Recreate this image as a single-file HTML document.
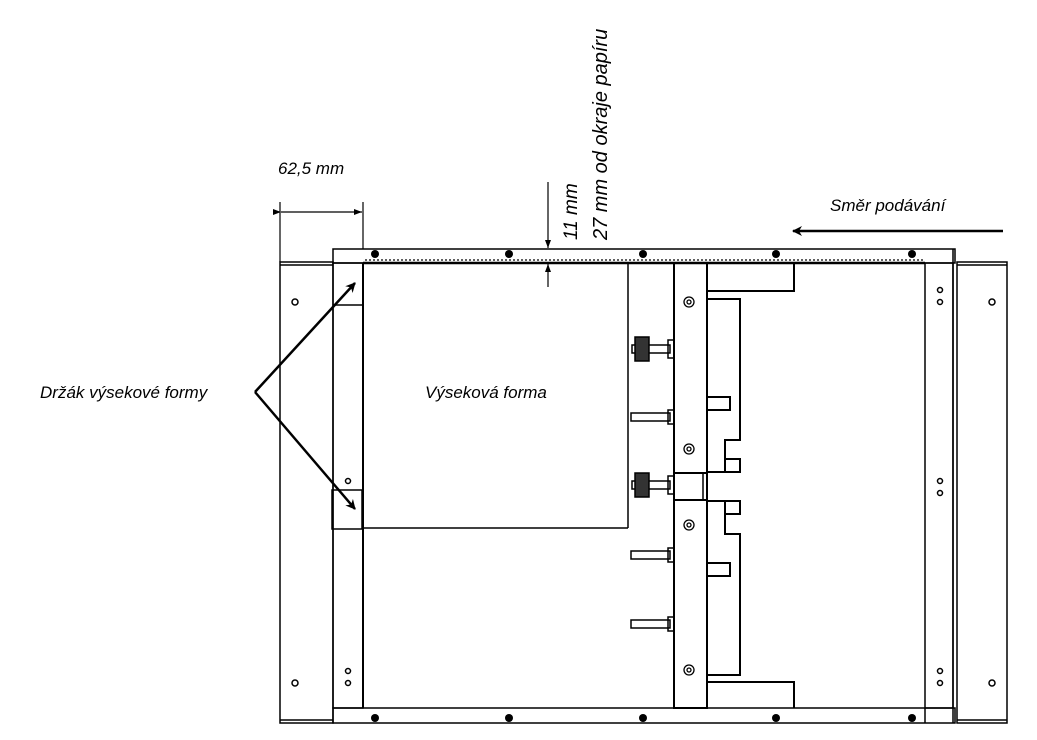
<!DOCTYPE html>
<html><head><meta charset="utf-8"><style>
html,body{margin:0;padding:0;background:#fff;}
svg{display:block;}
text{font-family:"Liberation Sans",sans-serif;font-style:italic;font-size:17px;fill:#000;}
</style></head><body>
<svg width="1037" height="740" viewBox="0 0 1037 740" xmlns="http://www.w3.org/2000/svg">
<defs>
<marker id="ah" markerWidth="10" markerHeight="10" refX="9" refY="5" orient="auto" markerUnits="userSpaceOnUse"><path d="M0,0 L10,5 L0,10 L3,5 z" fill="#000"/></marker>
<marker id="sa" markerWidth="8" markerHeight="8" refX="8" refY="4" orient="auto" markerUnits="userSpaceOnUse"><path d="M0,1 L8,4 L0,7 z" fill="#000"/></marker>
</defs>
<g fill="none" stroke="#000" stroke-width="1.5">
<rect x="280" y="262" width="53" height="461"/>
<line x1="280" y1="265" x2="333" y2="265"/>
<line x1="280" y1="720" x2="333" y2="720"/>
<rect x="957" y="262" width="50" height="461"/>
<line x1="957" y1="265" x2="1007" y2="265"/>
<line x1="957" y1="720" x2="1007" y2="720"/>
<rect x="333" y="249" width="622" height="14"/>
<line x1="363" y1="263" x2="925" y2="263" stroke-width="2.5"/>
<path d="M365,260 L925,260" stroke-dasharray="2 2" stroke-width="1.2"/>
<rect x="333" y="708" width="622" height="15"/>
<rect x="333" y="263" width="30" height="445"/>
<line x1="333" y1="305" x2="363" y2="305"/>
<rect x="332" y="490" width="30" height="39"/>
<rect x="925" y="263" width="28" height="445"/>
<line x1="925" y1="708" x2="925" y2="723"/>
<line x1="953" y1="249" x2="953" y2="723"/>
<line x1="363" y1="263" x2="363" y2="708" stroke-width="2"/>
<line x1="363" y1="528" x2="628" y2="528"/>
<line x1="628" y1="263" x2="628" y2="528"/>
<rect x="674" y="263" width="33" height="445" stroke-width="2"/>
<line x1="674" y1="473" x2="707" y2="473" stroke-width="2"/>
<line x1="674" y1="500" x2="707" y2="500" stroke-width="2"/>
<line x1="703" y1="473" x2="703" y2="500"/>
<path d="M707,291 L794,291 L794,263" stroke-width="2"/>
<path d="M707,682 L794,682 L794,708" stroke-width="2"/>
<path d="M707,299 L740,299 L740,440 L725,440 L725,459 L740,459 L740,472 L707,472 M707,397 L730,397 L730,410 L707,410 M725,459 L725,472" stroke-width="2"/>
<path d="M707,501 L740,501 L740,514 L725,514 L725,534 L740,534 L740,675 L707,675 M707,563 L730,563 L730,576 L707,576 M725,501 L725,514" stroke-width="2"/>
<g stroke-width="1.5">
<rect x="632" y="345" width="38" height="8"/><rect x="635" y="337" width="14" height="24" fill="#333"/><rect x="668" y="340" width="6" height="18"/>
<rect x="632" y="481" width="38" height="8"/><rect x="635" y="473" width="14" height="24" fill="#333"/><rect x="668" y="476" width="6" height="18"/>
<rect x="631" y="413" width="39" height="8"/><rect x="668" y="410" width="6" height="14"/>
<rect x="631" y="551" width="39" height="8"/><rect x="668" y="548" width="6" height="14"/>
<rect x="631" y="620" width="39" height="8"/><rect x="668" y="617" width="6" height="14"/>
</g>
<g stroke-width="1.3">
<circle cx="689" cy="302" r="5"/><circle cx="689" cy="302" r="2"/>
<circle cx="689" cy="449" r="5"/><circle cx="689" cy="449" r="2"/>
<circle cx="689" cy="525" r="5"/><circle cx="689" cy="525" r="2"/>
<circle cx="689" cy="670" r="5"/><circle cx="689" cy="670" r="2"/>
</g>
<g stroke-width="1.5">
<circle cx="295" cy="302" r="3"/><circle cx="295" cy="683" r="3"/>
<circle cx="992" cy="302" r="3"/><circle cx="992" cy="683" r="3"/>
<circle cx="348" cy="481" r="2.5"/><circle cx="348" cy="671" r="2.5"/><circle cx="348" cy="683" r="2.5"/>
<circle cx="940" cy="290" r="2.5"/><circle cx="940" cy="302" r="2.5"/>
<circle cx="940" cy="481" r="2.5"/><circle cx="940" cy="493" r="2.5"/>
<circle cx="940" cy="671" r="2.5"/><circle cx="940" cy="683" r="2.5"/>
</g>
<line x1="280" y1="202" x2="280" y2="262" stroke-width="1.2"/>
<line x1="363" y1="202" x2="363" y2="249" stroke-width="1.2"/>
<line x1="281" y1="212" x2="362" y2="212" stroke-width="1.2" marker-end="url(#sa)" marker-start="url(#sa)"/>
<line x1="548" y1="182" x2="548" y2="248" stroke-width="1.2" marker-end="url(#sa)"/>
<line x1="548" y1="287" x2="548" y2="264" stroke-width="1.2" marker-end="url(#sa)"/>
<line x1="1003" y1="231" x2="793" y2="231" stroke-width="2.5" marker-end="url(#ah)"/>
<line x1="255" y1="392" x2="355" y2="283" stroke-width="2.5" marker-end="url(#ah)"/>
<line x1="255" y1="392" x2="355" y2="509" stroke-width="2.5" marker-end="url(#ah)"/>
</g>
<g fill="#000">
<circle cx="375" cy="254" r="4"/><circle cx="509" cy="254" r="4"/><circle cx="643" cy="254" r="4"/><circle cx="776" cy="254" r="4"/><circle cx="912" cy="254" r="4"/>
<circle cx="375" cy="718" r="4"/><circle cx="509" cy="718" r="4"/><circle cx="643" cy="718" r="4"/><circle cx="776" cy="718" r="4"/><circle cx="912" cy="718" r="4"/>
</g>
<text x="278" y="174">62,5 mm</text>
<text x="830" y="211">Směr podávání</text>
<text x="40" y="398">Držák výsekové formy</text>
<text x="425" y="398">Výseková forma</text>
<text transform="translate(577,240) rotate(-90)" style="font-size:19px">11 mm</text>
<text transform="translate(607,240) rotate(-90)" style="font-size:20px">27 mm od okraje papíru</text>
</svg>
</body></html>
